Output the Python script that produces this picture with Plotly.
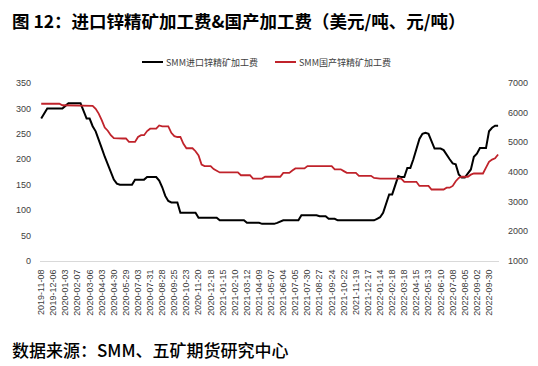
import datetime as dt
import plotly.graph_objects as go

# Tick labels shown on the x axis (every 4th weekly observation)
tick_labels = [
    "2019-11-08", "2019-12-06", "2020-01-03", "2020-02-07", "2020-03-06", "2020-04-03",
    "2020-04-30", "2020-05-29", "2020-07-03", "2020-07-31", "2020-08-28", "2020-09-25",
    "2020-10-23", "2020-11-20", "2020-12-18", "2021-01-15", "2021-02-10", "2021-03-12",
    "2021-04-09", "2021-05-07", "2021-06-04", "2021-07-05", "2021-07-30", "2021-08-27",
    "2021-09-24", "2021-10-22", "2021-11-19", "2021-12-17", "2022-01-14", "2022-02-18",
    "2022-03-18", "2022-04-15", "2022-05-13", "2022-06-10", "2022-07-08", "2022-08-05",
    "2022-09-02", "2022-09-30",
]

# Weekly categories: each labelled week followed by three unlabelled weeks
dates = []
for lab in tick_labels:
    d0 = dt.date.fromisoformat(lab)
    for k in range(4):
        dates.append((d0 + dt.timedelta(days=7 * k)).isoformat())

series_names = ["SMM进口锌精矿加工费", "SMM国产锌精矿加工费"]
series_colors = ["#000000", "#C0232B"]

# SMM imported zinc concentrate TC (USD/t, left axis)
import_tc = [
    280, 290, 300, 300, 300, 300, 300, 300, 305, 310,
    310, 310, 310, 310, 295, 280, 280, 265, 255, 240,
    222, 205, 190, 175, 160, 152, 150, 150, 150, 150,
    150, 160, 160, 160, 160, 165, 165, 165, 165, 158,
    145, 128, 118, 115, 115, 115, 95, 95, 95, 95,
    95, 95, 85, 85, 85, 85, 85, 85, 85, 80,
    80, 80, 80, 80, 80, 80, 80, 80, 75, 75,
    75, 75, 75, 73, 73, 73, 73, 73, 75, 78,
    80, 80, 80, 80, 80, 80, 90, 90, 90, 90,
    90, 90, 88, 88, 88, 83, 83, 83, 80, 80,
    80, 80, 80, 80, 80, 80, 80, 80, 80, 80,
    80, 83, 86, 95, 113, 131, 131, 149, 167, 165,
    165, 183, 183, 200, 220, 240, 250, 252, 250, 235,
    221, 221, 221, 218, 208, 200, 192, 190, 170, 164,
    164, 172, 180, 205, 211, 222, 222, 222, 255, 262,
    266, 266,
]

# SMM domestic zinc concentrate TC (CNY/t, right axis)
domestic_tc = [
    6300, 6300, 6300, 6300, 6300, 6300, 6300, 6250, 6250, 6250,
    6250, 6250, 6250, 6250, 6250, 6250, 6230, 6230, 6130, 5970,
    5750, 5500, 5390, 5240, 5140, 5130, 5130, 5130, 5130, 5015,
    5015, 5015, 5180, 5240, 5240, 5380, 5460, 5460, 5460, 5570,
    5540, 5540, 5540, 5320, 5210, 5180, 5180, 4950, 4800, 4800,
    4800, 4700, 4560, 4250, 4200, 4200, 4200, 4100, 4040, 3985,
    3985, 3985, 3985, 3985, 3985, 3985, 3890, 3890, 3890, 3890,
    3780, 3780, 3780, 3780, 3840, 3840, 3840, 3840, 3840, 3840,
    3970, 3970, 3970, 4050, 4120, 4120, 4120, 4120, 4200, 4200,
    4200, 4200, 4200, 4200, 4200, 4200, 4200, 4090, 4090, 4090,
    4030, 3970, 3970, 3970, 3970, 3870, 3870, 3870, 3870, 3870,
    3800, 3780, 3780, 3780, 3780, 3780, 3780, 3780, 3780, 3780,
    3670, 3670, 3670, 3670, 3670, 3530, 3530, 3530, 3530, 3410,
    3410, 3410, 3410, 3410, 3470, 3470, 3530, 3690, 3800, 3840,
    3840, 3840, 3910, 3950, 3950, 3950, 3950, 4150, 4340, 4420,
    4460, 4590,
]

# The page body adds an 8px margin; size the figure so it fits the window exactly.
OFF = 8
W, H = 538 - OFF, 366 - OFF


def px(x):  # target page x -> figure x
    return x - OFF


def py(y):  # target page y -> figure y
    return y - OFF


plot_l, plot_r, plot_t, plot_b = px(40), px(499), py(83), py(261)
ml, mr, mt, mb = plot_l, W - plot_r, plot_t, H - plot_b
pw, ph = plot_r - plot_l, plot_b - plot_t


def paper_x(x):
    return (px(x) - plot_l) / pw


def paper_y(y):
    return (plot_b - py(y)) / ph


fig = go.Figure()
fig.add_trace(go.Scatter(
    x=dates, y=import_tc, name=series_names[0], mode="lines",
    line=dict(color=series_colors[0], width=2), yaxis="y", showlegend=False,
))
fig.add_trace(go.Scatter(
    x=dates, y=domestic_tc, name=series_names[1], mode="lines",
    line=dict(color=series_colors[1], width=1.8), yaxis="y2", showlegend=False,
))

tick_font = dict(family="Liberation Sans, Arial, sans-serif", size=9, color="#404040")
cjk = "Noto Sans CJK SC, sans-serif"

fig.update_layout(
    width=W, height=H,
    margin=dict(l=ml, r=mr, t=mt, b=mb, autoexpand=False),
    paper_bgcolor="white", plot_bgcolor="white",
    title=dict(
        text="<b>图 12：进口锌精矿加工费&国产加工费（美元/吨、元/吨）</b>",
        font=dict(family=cjk, size=17.5, color="#000000"),
        x=px(12) / W, xanchor="left", xref="container",
        y=1 - py(22) / H, yanchor="middle", yref="container",
    ),
    showlegend=False,
    xaxis=dict(
        type="category", categoryorder="array", categoryarray=dates,
        tickmode="array", tickvals=tick_labels, ticktext=tick_labels,
        tickangle=-90, tickfont=tick_font, range=[-0.4, 151.3],
        showgrid=False, zeroline=False, showline=True,
        linecolor="#d9d9d9", linewidth=1, ticks="", ticklabelstandoff=4,
    ),
    yaxis=dict(
        range=[0, 350], dtick=50, tickfont=tick_font, showgrid=False,
        zeroline=False, showline=False, ticks="", ticklabelstandoff=8,
    ),
    yaxis2=dict(
        range=[1000, 7000], dtick=1000, tickfont=tick_font, showgrid=False,
        zeroline=False, showline=False, ticks="", overlaying="y", side="right",
        ticklabelstandoff=8,
    ),
)

# Legend (line sample + label), placed as in the reference
legend_y = 62
legend_items = [(142, 163), (275, 296)]
for (x0, x1), name, color in zip(legend_items, series_names, series_colors):
    fig.add_shape(
        type="line", xref="paper", yref="paper",
        x0=paper_x(x0), x1=paper_x(x1), y0=paper_y(legend_y), y1=paper_y(legend_y),
        line=dict(color=color, width=2),
    )
    fig.add_annotation(
        text=name, xref="paper", yref="paper",
        x=paper_x(x1 + 1), xanchor="left", y=paper_y(legend_y), yanchor="middle",
        showarrow=False, font=dict(family=cjk, size=9, color="#404040"),
    )

fig.add_annotation(
    text="数据来源：SMM、五矿期货研究中心",
    xref="paper", yref="paper",
    x=paper_x(10), xanchor="left",
    y=paper_y(349), yanchor="middle",
    showarrow=False,
    font=dict(family=cjk, size=17, color="#000000", weight=500),
)

fig.write_html("out.html")
